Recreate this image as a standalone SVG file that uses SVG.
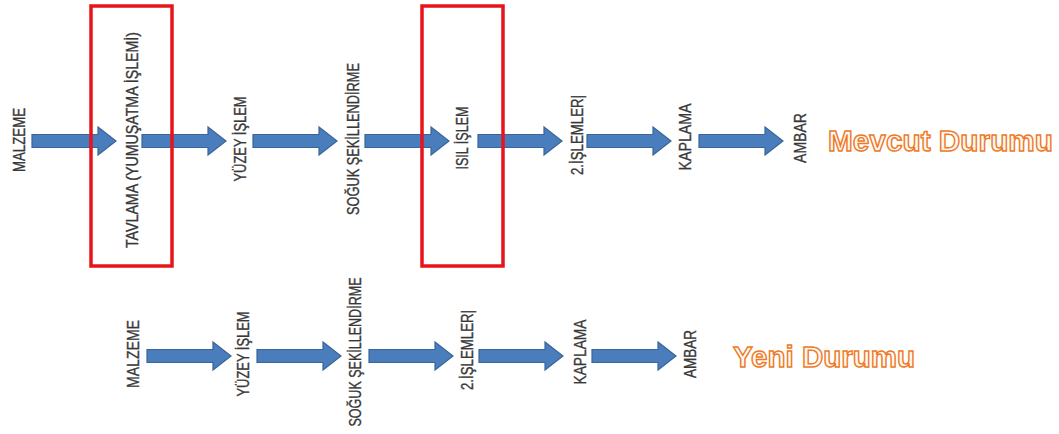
<svg xmlns="http://www.w3.org/2000/svg" width="1059" height="434" viewBox="0 0 1059 434">
<style>
.lbl{font-family:"Liberation Sans",Arial,sans-serif;font-size:16px;fill:#383838;stroke:#383838;stroke-width:0.35;text-anchor:middle}
.hl{fill:none;stroke:#e8141c;stroke-width:3.5}
.title{font-family:"Liberation Sans",Arial,sans-serif;font-weight:bold;font-size:29px;fill:#fff8f2;stroke:#ee7a26;stroke-width:1.4}
.arr{fill:#4a7dbb;stroke:#3a659a;stroke-width:1.2}
</style>
<defs>
<path id="arrow" d="M0,-6.5 H66 V-14 L84,0 L66,14 V6.5 H0 Z"/>
</defs>
<rect width="1059" height="434" fill="#ffffff"/>
<g id="connectors" class="arr">
<use href="#arrow" x="32" y="141"/>
<use href="#arrow" x="142" y="141"/>
<use href="#arrow" x="253" y="141"/>
<use href="#arrow" x="365" y="141"/>
<use href="#arrow" x="478" y="141"/>
<use href="#arrow" x="587" y="141"/>
<use href="#arrow" x="699" y="141"/>
<use href="#arrow" x="147" y="356"/>
<use href="#arrow" x="257" y="356"/>
<use href="#arrow" x="369" y="356"/>
<use href="#arrow" x="479" y="356"/>
<use href="#arrow" x="592" y="356"/>
</g>
<g id="highlights">
<rect class="hl" x="91" y="6" width="81" height="260"/>
<rect class="hl" x="422" y="6" width="81" height="260"/>
</g>
<g id="top-row">
<g id="t-malzeme"><text class="lbl" transform="translate(19,140) rotate(-90)" y="5.8" textLength="64" lengthAdjust="spacingAndGlyphs">MALZEME</text></g>
<g id="t-tavlama"><text class="lbl" transform="translate(132,140) rotate(-90)" y="5.8" textLength="216" lengthAdjust="spacingAndGlyphs">TAVLAMA (YUMUŞATMA İŞLEMİ)</text></g>
<g id="t-yuzey"><text class="lbl" transform="translate(240,139) rotate(-90)" y="5.8" textLength="85" lengthAdjust="spacingAndGlyphs">YÜZEY İŞLEM</text></g>
<g id="t-soguk"><text class="lbl" transform="translate(353,139) rotate(-90)" y="5.8" textLength="152" lengthAdjust="spacingAndGlyphs">SOĞUK ŞEKİLLENDİRME</text></g>
<g id="t-isil"><text class="lbl" transform="translate(462,138) rotate(-90)" y="5.8" textLength="63" lengthAdjust="spacingAndGlyphs">ISIL İŞLEM</text></g>
<g id="t-islemler"><text class="lbl" transform="translate(577,135) rotate(-90)" y="5.8" textLength="80" lengthAdjust="spacingAndGlyphs">2.İŞLEMLER|</text></g>
<g id="t-kaplama"><text class="lbl" transform="translate(685,137) rotate(-90)" y="5.8" textLength="67" lengthAdjust="spacingAndGlyphs">KAPLAMA</text></g>
<g id="t-ambar"><text class="lbl" transform="translate(800,138) rotate(-90)" y="5.8" textLength="50" lengthAdjust="spacingAndGlyphs">AMBAR</text></g>
<g id="t-title"><text class="title" x="828" y="151" textLength="225" lengthAdjust="spacingAndGlyphs">Mevcut Durumu</text></g>
</g>
<g id="bottom-row">
<g id="b-malzeme"><text class="lbl" transform="translate(133,354) rotate(-90)" y="5.8" textLength="68" lengthAdjust="spacingAndGlyphs">MALZEME</text></g>
<g id="b-yuzey"><text class="lbl" transform="translate(243,354) rotate(-90)" y="5.8" textLength="85" lengthAdjust="spacingAndGlyphs">YÜZEY İŞLEM</text></g>
<g id="b-soguk"><text class="lbl" transform="translate(355,352) rotate(-90)" y="5.8" textLength="149" lengthAdjust="spacingAndGlyphs">SOĞUK ŞEKİLLENDİRME</text></g>
<g id="b-islemler"><text class="lbl" transform="translate(467,350) rotate(-90)" y="5.8" textLength="80" lengthAdjust="spacingAndGlyphs">2.İŞLEMLER|</text></g>
<g id="b-kaplama"><text class="lbl" transform="translate(580,352) rotate(-90)" y="5.8" textLength="65" lengthAdjust="spacingAndGlyphs">KAPLAMA</text></g>
<g id="b-ambar"><text class="lbl" transform="translate(690,354) rotate(-90)" y="5.8" textLength="48" lengthAdjust="spacingAndGlyphs">AMBAR</text></g>
<g id="b-title"><text class="title" x="733" y="367" font-size="30" textLength="182" lengthAdjust="spacingAndGlyphs">Yeni Durumu</text></g>
</g>
</svg>
